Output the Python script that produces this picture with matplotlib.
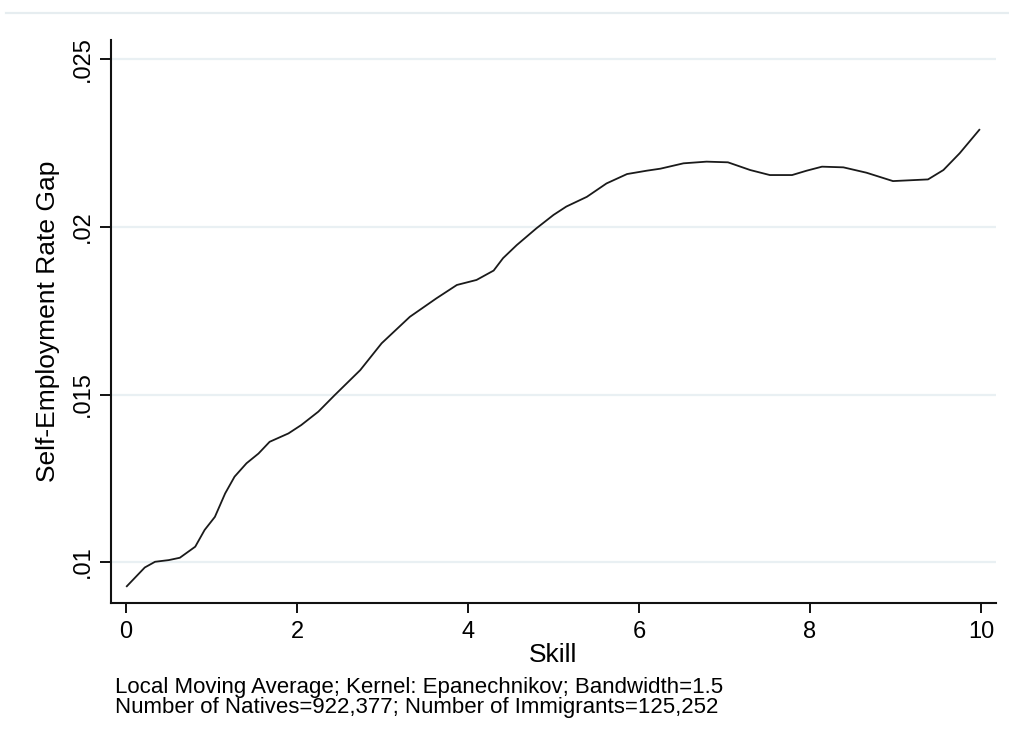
import matplotlib
matplotlib.use("Agg")
import matplotlib.pyplot as plt
from matplotlib.lines import Line2D

plt.rcParams['font.family'] = ['Liberation Sans', 'DejaVu Sans']

# Smoothed self-employment rate gap by skill level
skill = [0.01, 0.22, 0.34, 0.50, 0.63, 0.81, 0.92, 1.04, 1.16, 1.27, 1.41,
         1.55, 1.68, 1.90, 2.05, 2.25, 2.44, 2.74, 2.99, 3.32, 3.63, 3.87,
         4.10, 4.30, 4.41, 4.57, 4.80, 5.00, 5.15, 5.39, 5.62, 5.86, 6.09,
         6.25, 6.52, 6.79, 7.04, 7.30, 7.53, 7.79, 7.96, 8.14, 8.39, 8.66,
         8.97, 9.38, 9.56, 9.75, 9.98]
gap = [0.00928, 0.00984, 0.01001, 0.01006, 0.01013, 0.01046, 0.01096,
       0.01135, 0.01205, 0.01255, 0.01295, 0.01324, 0.01359, 0.01384,
       0.01409, 0.01449, 0.01498, 0.01573, 0.01653, 0.01732, 0.01787,
       0.01827, 0.01842, 0.01870, 0.01907, 0.01946, 0.01996, 0.02036,
       0.02061, 0.02090, 0.02130, 0.02158, 0.02168, 0.02174, 0.02190,
       0.02195, 0.02193, 0.02170, 0.02155, 0.02155, 0.02168, 0.02180,
       0.02178, 0.02162, 0.02137, 0.02142, 0.02170, 0.02220, 0.02290]

xticks = [0, 2, 4, 6, 8, 10]
xtick_labels = ['0', '2', '4', '6', '8', '10']
yticks = [0.01, 0.015, 0.02, 0.025]
ytick_labels = ['.01', '.015', '.02', '.025']

note_lines = ["Local Moving Average; Kernel: Epanechnikov; Bandwidth=1.5",
              "Number of Natives=922,377; Number of Immigrants=125,252"]

W, H = 1009, 745
fig = plt.figure(figsize=(W / 100, H / 100), dpi=100)
fig.patch.set_facecolor('white')

ax = fig.add_axes([111 / W, 1 - 603 / H, (996 - 111) / W, (603 - 40) / H])
ax.set_facecolor('white')

grid_col = '#e9f0f3'
for yv in yticks:
    ax.axhline(yv, color=grid_col, lw=1.6, zorder=0)

ax.plot(skill, gap, color='#1a1a1a', lw=1.3, zorder=3,
        solid_joinstyle='round')

ax.set_xlim(-0.175, 10.175)
ax.set_ylim(0.00878, 0.02558)

ax.set_xticks(xticks)
ax.set_xticklabels(xtick_labels, fontsize=17)
ax.set_yticks(yticks)
ax.set_yticklabels(ytick_labels, fontsize=17, rotation=90, va='center')

for side in ('top', 'right'):
    ax.spines[side].set_visible(False)
for side in ('left', 'bottom'):
    ax.spines[side].set_linewidth(1.5)
    ax.spines[side].set_color('#111111')

ax.tick_params(axis='x', length=7, width=1.4, pad=6, color='#111111')
ax.tick_params(axis='y', length=8, width=1.4, pad=4, color='#111111')

ax.set_xlabel('Skill', fontsize=19, va='center')
ax.xaxis.set_label_coords(0.5, (603 - 655) / 563)
ax.set_ylabel('Self-Employment Rate Gap', fontsize=19, va='center')
ax.yaxis.set_label_coords((48 - 111) / 885, 0.5)

# faint border line across the top of the graph region
fig.add_artist(Line2D([6 / W, 1.0], [1 - 13 / H, 1 - 13 / H],
                      color='#e6edf0', lw=1.6))

fig.text(115 / W, 1 - 687 / H, note_lines[0], fontsize=16,
         ha='left', va='center')
fig.text(115 / W, 1 - 708 / H, note_lines[1], fontsize=16,
         ha='left', va='center')

fig.savefig('out.png', dpi=100, facecolor='white')
